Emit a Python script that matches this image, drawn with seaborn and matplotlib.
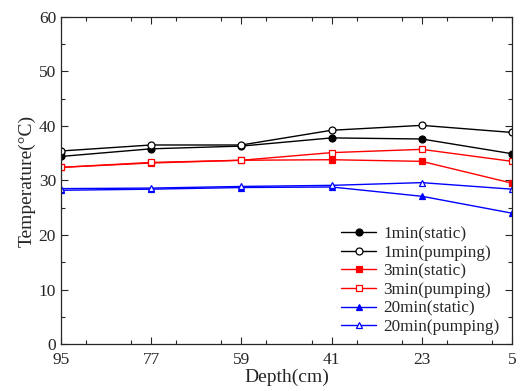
import numpy as np
import pandas as pd
import seaborn as sns
import matplotlib
matplotlib.use("Agg")
import matplotlib.pyplot as plt
from matplotlib.ticker import MultipleLocator

# -----------------------------
# DATA
# -----------------------------
depth = [95, 77, 59, 41, 23, 5]

t1_static = [34.4, 35.8, 36.3, 37.8, 37.6, 34.9]
t1_pump = [35.4, 36.5, 36.5, 39.2, 40.1, 38.8]
t3_static = [32.4, 33.2, 33.7, 33.8, 33.5, 29.5]
t3_pump = [32.4, 33.3, 33.7, 35.1, 35.7, 33.5]
t20_static = [28.2, 28.4, 28.7, 28.8, 27.1, 24.0]
t20_pump = [28.5, 28.6, 28.9, 29.1, 29.6, 28.4]

labels = ['1min(static)', '1min(pumping)', '3min(static)',
          '3min(pumping)', '20min(static)', '20min(pumping)']
series = [t1_static, t1_pump, t3_static, t3_pump, t20_static, t20_pump]
colors = ['black', 'black', 'red', 'red', 'blue', 'blue']
markers = ['o', 'o', 's', 's', '^', '^']
filled = [True, False, True, False, True, False]

# -----------------------------
# PLOT
# -----------------------------
sns.set_style('ticks')
plt.rcParams['font.family'] = ['Liberation Serif', 'DejaVu Serif']

fig = plt.figure(figsize=(5.3, 3.91), dpi=100)
ax = fig.add_axes([0.115, 0.12, 0.851, 0.837])

for vals, lab, c, m, f in zip(series, labels, colors, markers, filled):
    df = pd.DataFrame({'Depth': depth, 'Temp': vals})
    sns.lineplot(data=df, x='Depth', y='Temp', ax=ax, color=c, marker=m,
                 markersize=5, markerfacecolor=c if f else 'white',
                 markeredgecolor=c, markeredgewidth=0.9, linewidth=1.0,
                 label=lab)

ax.set_xlim(95, 5)
ax.set_ylim(0, 60)
ax.set_xticks(depth)
ax.xaxis.set_minor_locator(MultipleLocator(9))
ax.yaxis.set_major_locator(MultipleLocator(10))
ax.yaxis.set_minor_locator(MultipleLocator(5))
ax.tick_params(which='both', direction='in', top=True, right=True,
               labelsize=12.5, width=0.8)
ax.tick_params(which='major', length=5)
ax.tick_params(which='minor', length=3)
ax.tick_params(axis='x', pad=6)
for s in ax.spines.values():
    s.set_linewidth(0.9)

ax.set_xlabel('Depth(cm)', fontsize=14, labelpad=0)
ax.set_ylabel('Temperature(°C)', fontsize=14, labelpad=2)

ax.legend(loc='lower right', bbox_to_anchor=(0.995, -0.004), frameon=False,
          fontsize=12.3, handlelength=2.05, labelspacing=0.15,
          handletextpad=0.4, borderaxespad=0.2)

fig.savefig('out.png', dpi=100)
